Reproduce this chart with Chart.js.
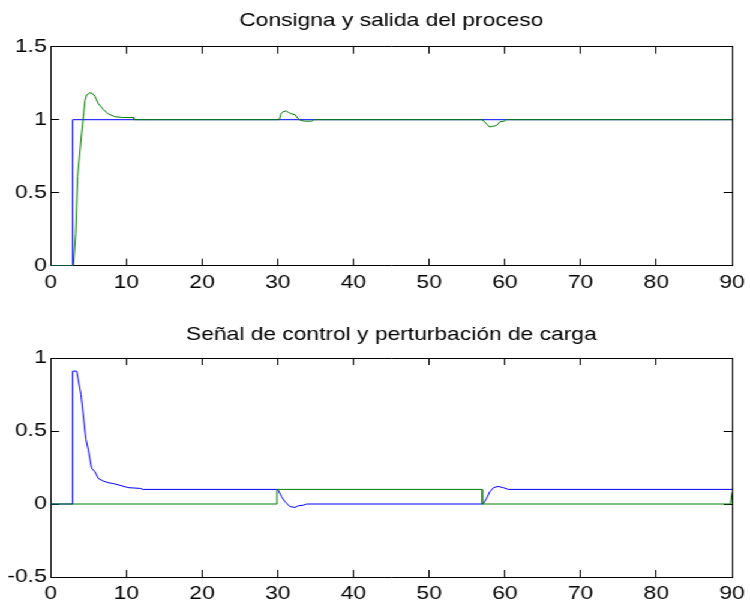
<!DOCTYPE html>
<html>
<head>
<meta charset="utf-8">
<script src="https://cdn.jsdelivr.net/npm/chart.js@4"></script>
<style>
  html, body { margin: 0; padding: 0; background: #fff; overflow: hidden; }
  /* MATLAB export is stretched horizontally, so the whole figure is too */
  #fig { position: absolute; left: 0; top: 0; width: 635px; height: 605px;
         transform: scaleX(1.2); transform-origin: 0 0; }
  #fig canvas { position: absolute; left: 0; display: block; }
</style>
</head>
<body>
<div id="fig">
  <canvas id="top" width="635" height="300" style="top:0"></canvas>
  <canvas id="bot" width="635" height="305" style="top:300px"></canvas>
</div>
<script>
// Tick values / labels
const X_TICKS = [0, 10, 20, 30, 40, 50, 60, 70, 80, 90]
const X_LABELS = ["0", "10", "20", "30", "40", "50", "60", "70", "80", "90"]
const Y_TICKS_TOP = [0, 0.5, 1, 1.5]
const Y_LABELS_TOP = ["0", "0.5", "1", "1.5"]
const Y_TICKS_BOT = [-0.5, 0, 0.5, 1]
const Y_LABELS_BOT = ["-0.5", "0", "0.5", "1"]

// Top: setpoint (consigna) and process output (salida)
const spT = [0, 2.9, 2.9, 90]
const spY = [0, 0, 1, 1]
const outT = [0, 3.0, 3.3, 3.55, 4.09, 4.53, 4.75, 5.19, 5.5, 5.85, 6.29, 6.95, 7.6, 8.5, 9.5, 10.9, 11.0,
              30.2, 30.4, 30.7, 31.1, 31.4, 31.8, 32.3, 32.6, 33.0, 33.6, 34.5, 34.8,
              57.0, 57.6, 58.0, 58.4, 58.9, 59.35, 59.9, 60.2, 90]
const outY = [0, 0, 0.22, 0.61, 0.91, 1.13, 1.17, 1.185, 1.18, 1.16, 1.11, 1.07, 1.04, 1.02, 1.015, 1.015, 1.0,
              1.0, 1.04, 1.055, 1.06, 1.05, 1.04, 1.035, 1.01, 0.995, 0.99, 0.99, 1.0,
              1.0, 0.97, 0.95, 0.955, 0.96, 0.986, 0.99, 1.0, 1.0]

// Bottom: control signal and load disturbance
const ctlT = [0, 2.9, 2.9, 3.43, 4.0, 4.66, 4.97, 5.4, 5.85, 6.29, 6.95, 7.6, 8.27, 9.15, 10.25, 11.8, 12.2,
              30.0, 30.5, 30.95, 31.6, 32.3, 32.7, 33.4, 33.8,
              57.1, 57.6, 58.0, 58.5, 59.1, 59.8, 60.45, 90]
const ctlY = [0, 0, 0.91, 0.91, 0.75, 0.44, 0.37, 0.245, 0.22, 0.175, 0.157, 0.146, 0.14, 0.128, 0.112, 0.107, 0.1,
              0.1, 0.05, 0.016, -0.018, -0.023, -0.012, -0.008, 0.0,
              0.0, 0.04, 0.084, 0.112, 0.12, 0.112, 0.1, 0.1]
const distT = [0, 29.9, 29.9, 57.0, 57.0, 89.8, 90]
const distY = [0, 0, 0.1, 0.1, 0, 0, 0.08]

const BLUE = "#0000ff"
const GREEN = "#008000"
const FONT = { family: "'Liberation Sans', Arial, sans-serif", size: 19, weight: "normal" }
const TICK = -7   // negative => ticks point into the axes, like MATLAB

const pts = (t, v) => t.map((x, i) => ({ x, y: v[i] }))
const fixTicks = (values) => (axis) => { axis.ticks = values.map((value) => ({ value })) }

const xAxis = (pos, h) => ({
  type: "linear", position: pos, min: 0, max: 90,
  afterBuildTicks: fixTicks(X_TICKS),
  afterFit: (a) => { a.height = h },
  grid: { drawOnChartArea: false, drawTicks: true, tickLength: TICK, color: "#000" },
  border: { display: true, color: "#000", width: 1 },
  ticks: { display: h > 0, padding: 12.5, font: FONT, color: "#000", maxRotation: 0, autoSkip: false,
           callback: (v) => X_LABELS[X_TICKS.indexOf(v)] },
})

const yAxis = (pos, w, min, max, ticks, labels, show) => ({
  type: "linear", position: pos, min, max,
  afterBuildTicks: fixTicks(ticks),
  afterFit: (a) => { a.width = w },
  grid: { drawOnChartArea: false, drawTicks: true, tickLength: TICK, color: "#000" },
  border: { display: true, color: "#000", width: 1 },
  ticks: { display: show, padding: 10.3, font: FONT, color: "#000", autoSkip: false,
           callback: (v) => labels[ticks.indexOf(v)] },
})

const line = (data, color, order) => ({
  data, borderColor: color, backgroundColor: color, borderWidth: 1,
  pointRadius: 0, tension: 0, fill: false, order,
})

// plot box: x 42.25..610 (canvas units, before the 1.2 stretch)
const makeChart = (id, title, titlePad, xH, ymin, ymax, yTicks, yLabels, datasets) =>
  new Chart(document.getElementById(id), {
    type: "line",
    data: { datasets },
    options: {
      responsive: false,
      animation: false,
      devicePixelRatio: 1,
      layout: { padding: 0 },
      plugins: {
        legend: { display: false },
        tooltip: { enabled: false },
        title: { display: true, text: title, fullSize: false, color: "#000", font: FONT, padding: titlePad },
      },
      scales: {
        x: xAxis("bottom", xH),
        x2: xAxis("top", 0),
        y: yAxis("left", 42.25, ymin, ymax, yTicks, yLabels, true),
        y2: yAxis("right", 25, ymin, ymax, yTicks, yLabels, false),
      },
    },
  })

makeChart("top", "Consigna y salida del proceso", { top: 9, bottom: 14.9 }, 34.3,
  0, 1.5, Y_TICKS_TOP, Y_LABELS_TOP, [
    line(pts(outT, outY), GREEN, 0),
    line(pts(spT, spY), BLUE, 1),
  ])

makeChart("bot", "Señal de control y perturbación de carga", { top: 23.5, bottom: 11.7 }, 28,
  -0.5, 1, Y_TICKS_BOT, Y_LABELS_BOT, [
    line(pts(distT, distY), GREEN, 0),
    line(pts(ctlT, ctlY), BLUE, 1),
  ])
</script>
</body>
</html>
